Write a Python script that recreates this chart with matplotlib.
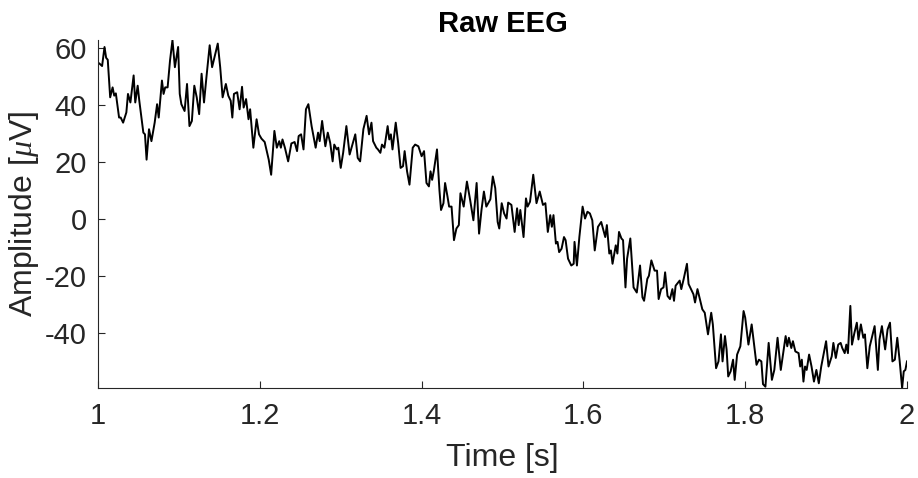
import matplotlib
matplotlib.use('Agg')
import matplotlib.pyplot as plt
import numpy as np

# values (time in s, amplitude in uV)
t = [1.000, 1.002, 1.005, 1.008, 1.010, 1.012, 1.015, 1.018, 1.020, 1.022, 1.026, 1.028, 1.031, 1.035,
     1.037, 1.040, 1.044, 1.046, 1.049, 1.051, 1.056, 1.058, 1.060, 1.063, 1.066, 1.070, 1.073, 1.075,
     1.079, 1.081, 1.083, 1.086, 1.089, 1.092, 1.095, 1.099, 1.101, 1.103, 1.107, 1.110, 1.113, 1.116,
     1.119, 1.122, 1.125, 1.128, 1.131, 1.134, 1.138, 1.141, 1.143, 1.148, 1.151, 1.154, 1.158, 1.161,
     1.164, 1.166, 1.168, 1.172, 1.175, 1.178, 1.180, 1.183, 1.186, 1.188, 1.192, 1.196, 1.199, 1.202,
     1.206, 1.211, 1.214, 1.218, 1.221, 1.224, 1.226, 1.228, 1.231, 1.235, 1.239, 1.243, 1.246, 1.248,
     1.251, 1.254, 1.257, 1.260, 1.264, 1.269, 1.272, 1.274, 1.277, 1.281, 1.284, 1.287, 1.290, 1.292,
     1.295, 1.297, 1.300, 1.303, 1.307, 1.311, 1.318, 1.321, 1.324, 1.328, 1.332, 1.335, 1.338, 1.340,
     1.344, 1.346, 1.349, 1.351, 1.354, 1.358, 1.360, 1.362, 1.364, 1.368, 1.371, 1.374, 1.377, 1.379,
     1.382, 1.385, 1.389, 1.392, 1.396, 1.400, 1.403, 1.406, 1.409, 1.411, 1.413, 1.415, 1.419, 1.422,
     1.424, 1.427, 1.429, 1.432, 1.434, 1.437, 1.440, 1.443, 1.446, 1.448, 1.452, 1.456, 1.460, 1.464,
     1.468, 1.471, 1.474, 1.477, 1.480, 1.485, 1.488, 1.491, 1.494, 1.496, 1.499, 1.502, 1.505, 1.507,
     1.511, 1.515, 1.518, 1.520, 1.522, 1.526, 1.529, 1.531, 1.534, 1.538, 1.542, 1.546, 1.550, 1.553,
     1.556, 1.559, 1.561, 1.563, 1.566, 1.568, 1.570, 1.573, 1.576, 1.578, 1.581, 1.585, 1.588, 1.589,
     1.592, 1.595, 1.599, 1.602, 1.605, 1.608, 1.611, 1.614, 1.618, 1.622, 1.627, 1.629, 1.632, 1.634,
     1.636, 1.640, 1.642, 1.644, 1.647, 1.649, 1.652, 1.654, 1.658, 1.662, 1.666, 1.670, 1.673, 1.675,
     1.679, 1.681, 1.684, 1.688, 1.691, 1.693, 1.696, 1.699, 1.701, 1.704, 1.707, 1.710, 1.712, 1.714,
     1.719, 1.721, 1.724, 1.728, 1.730, 1.733, 1.736, 1.738, 1.741, 1.744, 1.747, 1.750, 1.754, 1.758,
     1.760, 1.764, 1.767, 1.770, 1.772, 1.775, 1.777, 1.779, 1.782, 1.785, 1.787, 1.790, 1.794, 1.798,
     1.800, 1.804, 1.808, 1.811, 1.814, 1.817, 1.820, 1.822, 1.825, 1.829, 1.833, 1.836, 1.840, 1.844,
     1.847, 1.850, 1.852, 1.854, 1.857, 1.859, 1.862, 1.866, 1.868, 1.870, 1.872, 1.874, 1.876, 1.879,
     1.882, 1.885, 1.888, 1.891, 1.894, 1.900, 1.903, 1.907, 1.909, 1.912, 1.915, 1.918, 1.920, 1.923,
     1.925, 1.927, 1.930, 1.932, 1.935, 1.938, 1.940, 1.943, 1.946, 1.948, 1.951, 1.954, 1.957, 1.960,
     1.964, 1.966, 1.969, 1.973, 1.976, 1.979, 1.982, 1.985, 1.988, 1.991, 1.994, 1.996, 1.998, 2.000]

eeg = [55.0, 54.6, 53.8, 60.5, 56.7, 56.0, 42.8, 46.3, 43.4, 44.2, 35.7, 35.7, 33.9, 37.5,
       44.0, 41.0, 50.5, 41.0, 46.9, 41.6, 30.4, 29.8, 20.9, 31.6, 27.4, 33.9, 40.4, 35.7,
       48.7, 44.0, 46.3, 46.3, 55.8, 62.9, 53.4, 60.5, 44.0, 40.4, 38.0, 47.5, 32.7, 34.5,
       46.9, 42.8, 36.9, 51.1, 41.0, 49.9, 61.1, 53.4, 55.8, 61.7, 53.4, 42.8, 47.5, 43.4,
       41.6, 35.7, 44.0, 44.6, 38.6, 46.5, 39.2, 42.2, 35.1, 38.6, 25.1, 35.1, 29.8, 28.3,
       27.1, 20.9, 15.6, 31.0, 25.1, 27.4, 25.1, 28.0, 25.1, 20.3, 26.6, 27.1, 23.9, 29.2,
       29.8, 24.5, 38.6, 40.4, 32.7, 25.1, 30.4, 27.4, 34.5, 25.6, 30.4, 26.8, 20.3, 26.2,
       24.5, 25.1, 18.0, 23.3, 32.7, 22.7, 29.8, 21.5, 20.3, 31.6, 36.3, 29.8, 33.9, 27.4,
       25.1, 24.5, 23.3, 26.2, 25.1, 32.7, 28.0, 29.8, 24.5, 33.9, 26.8, 18.0, 18.6, 23.9,
       16.8, 12.1, 25.1, 26.2, 25.6, 22.1, 23.9, 12.7, 11.5, 16.8, 13.8, 16.8, 24.5, 10.3,
       3.2, 5.6, 12.7, 7.9, 4.4, 4.4, -7.4, -3.3, -2.1, 9.1, 4.4, 13.2, 6.7, -0.4,
       12.7, -5.1, 3.2, 9.7, 4.4, 7.0, 15.0, 10.9, -1.0, -3.3, 5.6, 2.0, 0.2, 5.8,
       5.0, -4.5, 3.8, -2.1, 3.2, -6.3, 7.3, 4.4, 6.1, 15.6, 5.6, 9.7, 5.0, 5.6,
       -4.5, 1.4, -2.7, 1.4, -8.6, -8.0, -11.6, -10.4, -6.3, -7.4, -13.9, -16.3, -15.7, -8.0,
       -16.3, -6.3, 4.4, 0.2, 2.6, 2.0, -0.4, -11.0, -2.7, -1.0, -6.3, -2.1, -12.1, -11.0,
       -15.7, -9.2, -12.1, -4.5, -6.8, -7.4, -24.0, -13.9, -6.8, -24.0, -25.8, -16.3, -27.5, -28.7,
       -21.0, -19.9, -14.5, -18.1, -18.1, -28.1, -24.6, -24.0, -18.7, -27.0, -28.1, -24.6, -28.7, -23.4,
       -21.6, -24.6, -21.0, -15.7, -22.8, -24.6, -26.4, -29.3, -24.6, -28.1, -31.7, -32.9, -40.5, -32.9,
       -37.0, -52.4, -50.0, -40.5, -50.0, -41.1, -45.8, -55.3, -53.5, -49.4, -56.5, -47.6, -44.7, -32.3,
       -34.6, -44.1, -37.0, -44.1, -51.2, -49.4, -50.0, -58.0, -58.9, -43.5, -56.5, -53.0, -41.7, -53.0,
       -47.1, -41.1, -44.7, -41.7, -45.3, -42.9, -46.5, -47.1, -51.8, -49.4, -57.1, -51.8, -53.0, -47.6,
       -51.8, -57.1, -53.0, -57.7, -51.8, -42.9, -51.8, -48.2, -43.5, -48.8, -44.1, -43.5, -45.3, -47.1,
       -44.1, -47.1, -30.5, -44.1, -40.0, -36.4, -42.3, -37.0, -41.7, -40.5, -52.4, -44.7, -41.1, -37.6,
       -53.0, -42.3, -37.6, -45.8, -38.8, -36.4, -50.0, -49.4, -41.7, -50.0, -59.4, -53.5, -53.0, -50.0]

xticks = [1, 1.2, 1.4, 1.6, 1.8, 2]
xticklabels = ['1', '1.2', '1.4', '1.6', '1.8', '2']
yticks = [-40, -20, 0, 20, 40, 60]

plt.rcParams['font.family'] = ['Liberation Sans', 'DejaVu Sans']
plt.rcParams['axes.unicode_minus'] = False
plt.rcParams['mathtext.fontset'] = 'custom'
plt.rcParams['mathtext.it'] = 'Liberation Serif:italic'

fig = plt.figure(figsize=(9.18, 4.78), dpi=100)
ax = fig.add_axes([0.1068, 0.188, 0.8812, 0.728])

ax.plot(t, eeg, color='black', linewidth=1.4)

ax.set_xlim(1, 2)
ax.set_ylim(min(eeg), max(eeg))
ax.set_xticks(xticks)
ax.set_xticklabels(xticklabels)
ax.set_yticks(yticks)

grey = '#262626'
for side in ['top', 'right']:
    ax.spines[side].set_visible(False)
for side in ['left', 'bottom']:
    ax.spines[side].set_color(grey)
    ax.spines[side].set_linewidth(0.8)
ax.tick_params(direction='in', length=5, width=0.8, colors=grey, labelsize=21)
ax.tick_params(axis='x', pad=10)
ax.tick_params(axis='y', pad=8)

ax.set_xlabel('Time [s]', fontsize=23, color=grey, labelpad=9)
ax.set_ylabel(r'Amplitude [$\mu$V]', fontsize=23, color=grey, labelpad=3)
ax.set_title('Raw EEG', fontsize=21, fontweight='bold', pad=6)

fig.savefig('out.png', dpi=100)
